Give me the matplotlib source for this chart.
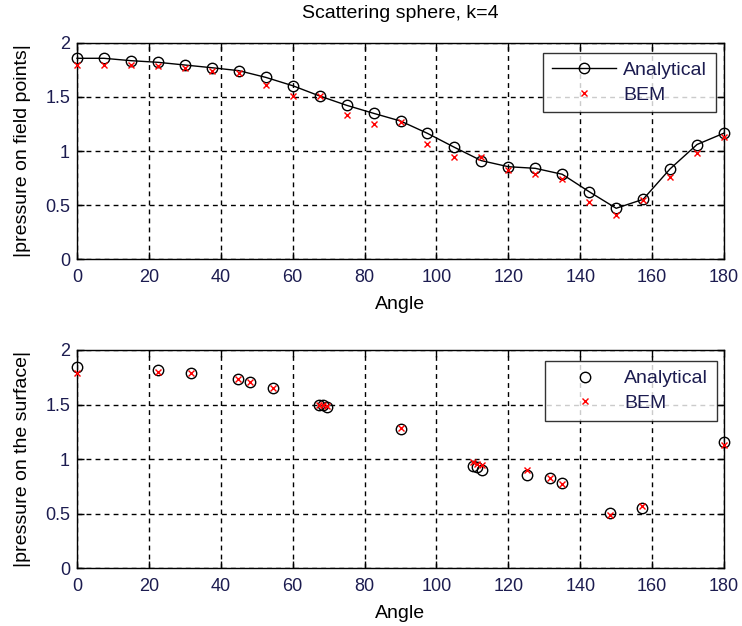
import matplotlib
matplotlib.use("Agg")
import matplotlib.pyplot as plt

plt.rcParams['font.family'] = ['Liberation Sans', 'DejaVu Sans']

# ---- data: field points ----
field_angle = [0, 7.5, 15, 22.5, 30, 37.5, 45, 52.5, 60, 67.5, 75, 82.5, 90,
               97.5, 105, 112.5, 120, 127.5, 135, 142.5, 150, 157.5, 165, 172.5, 180]
field_analytical = [1.856, 1.856, 1.834, 1.819, 1.794, 1.769, 1.742, 1.680, 1.603,
                    1.508, 1.422, 1.348, 1.277, 1.163, 1.034, 0.911, 0.855, 0.840,
                    0.785, 0.624, 0.471, 0.554, 0.835, 1.060, 1.165]
field_bem = [1.794, 1.794, 1.794, 1.785, 1.763, 1.739, 1.717, 1.609, 1.508, 1.508,
             1.332, 1.249, 1.270, 1.065, 0.942, 0.947, 0.825, 0.788, 0.739, 0.532,
             0.409, 0.548, 0.763, 0.979, 1.132]

# ---- data: surface ----
surf_angle = [0, 22.6, 31.6, 44.9, 48.1, 54.6, 67.3, 68.3, 69.6, 90, 110.3, 111.3,
              112.6, 125.3, 131.6, 134.9, 148.3, 157.3, 180]
surf_analytical = [1.846, 1.816, 1.786, 1.734, 1.703, 1.648, 1.500, 1.500, 1.480,
                   1.280, 0.940, 0.925, 0.905, 0.854, 0.824, 0.778, 0.504, 0.555, 1.160]
surf_bem = [1.786, 1.800, 1.786, 1.734, 1.703, 1.648, 1.500, 1.500, 1.490, 1.285,
            0.975, 0.960, 0.950, 0.900, 0.830, 0.770, 0.490, 0.570, 1.130]

xticks = [0, 20, 40, 60, 80, 100, 120, 140, 160, 180]
yticks = [0, 0.5, 1, 1.5, 2]
ytick_labels = ['0', '0.5', '1', '1.5', '2']

W, H = 742, 626
fig = plt.figure(figsize=(W / 100, H / 100), dpi=100)
ax1 = fig.add_axes([77/W, 1-259.3/H, (724-77)/W, (259.3-42.7)/H])
ax2 = fig.add_axes([77/W, 1-568.3/H, (724-77)/W, (568.3-350)/H])

tick_color = '#1c1c50'
tfs = 13
lfs = 14

def style(ax, ylabel):
    ax.set_xlim(0, 180)
    ax.set_ylim(0, 2)
    ax.set_xticks(xticks)
    ax.set_yticks(yticks)
    ax.set_yticklabels(ytick_labels)
    ax.grid(True, color='black', linestyle=(0, (3.5, 3)), linewidth=1.0)
    ax.set_axisbelow(True)
    ax.tick_params(direction='in', length=5, width=1, top=True, right=True,
                   labelsize=tfs, labelcolor=tick_color)
    ax.tick_params(axis='x', pad=7)
    ax.tick_params(axis='y', pad=5)
    for s in ax.spines.values():
        s.set_linewidth(1.0)
    ax.set_xlabel('Angle', fontsize=lfs, labelpad=7)
    ax.set_ylabel(ylabel, fontsize=lfs, labelpad=10)

def legend(ax, right_px, top_px):
    leg = ax.legend(loc='upper right', bbox_to_anchor=(right_px/W, 1-top_px/H),
                    bbox_transform=fig.transFigure, borderaxespad=0,
                    fontsize=lfs, frameon=True, fancybox=False, edgecolor='black',
                    handlelength=3.3, borderpad=0.45, labelspacing=0.36,
                    handletextpad=0.35)
    leg.get_frame().set_linewidth(1.0)
    for t in leg.get_texts():
        t.set_color(tick_color)

ax1.plot(field_angle, field_analytical, color='black', linewidth=1.0, marker='o',
         markersize=7.5, markerfacecolor='none', markeredgecolor='black',
         markeredgewidth=1.0, label='Analytical', zorder=3, clip_on=False)
ax1.plot(field_angle, field_bem, linestyle='none', marker='x', markersize=4.5,
         color='red', markeredgewidth=1.0, label='BEM', zorder=4, clip_on=False)
style(ax1, '|pressure on field points|')
fig.text(0.5 * (77 + 724) / W, 1 - 13/H, 'Scattering sphere, k=4', fontsize=lfs,
         ha='center', va='center')
legend(ax1, 715.7, 52.7)

ax2.plot(surf_angle, surf_analytical, linestyle='none', marker='o', markersize=7.5,
         markerfacecolor='none', markeredgecolor='black', markeredgewidth=1.0,
         label='Analytical', zorder=3, clip_on=False)
ax2.plot(surf_angle, surf_bem, linestyle='none', marker='x', markersize=4.5,
         color='red', markeredgewidth=1.0, label='BEM', zorder=4, clip_on=False)
style(ax2, '|pressure on the surface|')
legend(ax2, 717, 361)

fig.savefig('out.png', dpi=100)
